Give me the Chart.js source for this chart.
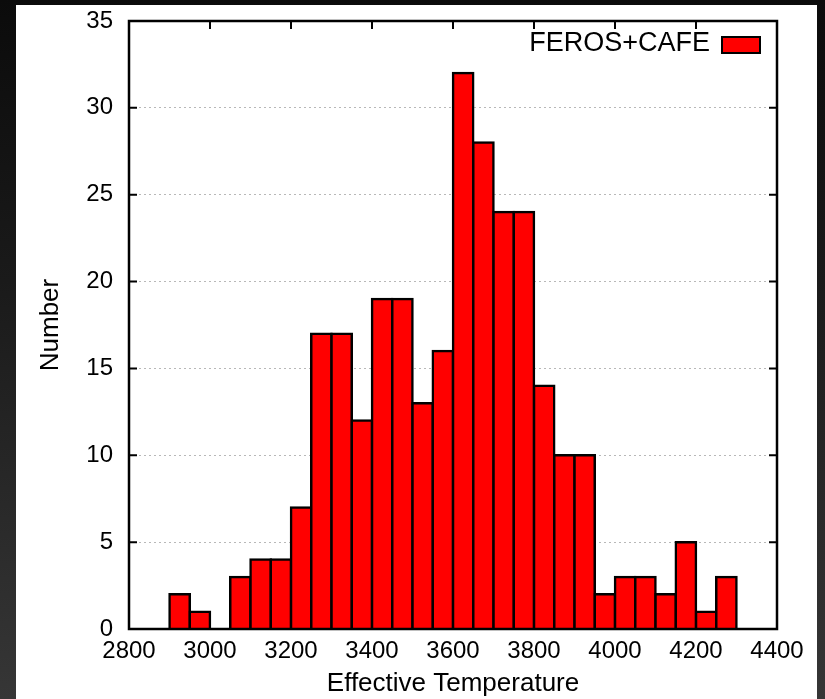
<!DOCTYPE html>
<html>
<head>
<meta charset="utf-8">
<script src="https://cdn.jsdelivr.net/npm/chart.js@4/dist/chart.umd.min.js"></script>
<style>
  html, body { margin: 0; padding: 0; }
  body {
    width: 825px; height: 699px; overflow: hidden;
    background: linear-gradient(to bottom, #0b0b0b 0%, #1a1a1a 40%, #363636 100%);
    position: relative;
  }
  #panel {
    position: absolute; left: 16px; top: 5px;
    width: 801px; height: 694px; background: #ffffff;
  }
</style>
</head>
<body>
<div id="panel"><canvas id="histo"></canvas></div>
<script>
// histogram bins (50 K wide), centre of each bin
const binCenters = [2925, 2975, 3025, 3075, 3125, 3175, 3225, 3275, 3325, 3375,
                    3425, 3475, 3525, 3575, 3625, 3675, 3725, 3775, 3825, 3875,
                    3925, 3975, 4025, 4075, 4125, 4175, 4225, 4275];
// number of stars in each bin
const counts = [2, 1, 0, 3, 4, 4, 7, 17, 17, 12,
                19, 19, 13, 16, 32, 28, 24, 24, 14, 10,
                10, 2, 3, 3, 2, 5, 1, 3];

const seriesLabel = 'FEROS+CAFE';
const xTitle = 'Effective Temperature';
const yTitle = 'Number';

const FONT = 'Liberation Sans, Arial, Helvetica, sans-serif';

// frame with inward ticks on all four sides (gnuplot look)
const framePlugin = {
    id: 'frame',
    afterDatasetsDraw(chart) {
        const { ctx, chartArea: a, scales } = chart;
        const len = 8;
        ctx.save();
        ctx.strokeStyle = '#000';
        ctx.lineWidth = 2;
        ctx.beginPath();
        scales.x.ticks.forEach((t) => {
            const px = scales.x.getPixelForValue(t.value);
            ctx.moveTo(px, a.bottom); ctx.lineTo(px, a.bottom - len);
            ctx.moveTo(px, a.top); ctx.lineTo(px, a.top + len);
        });
        scales.y.ticks.forEach((t) => {
            const py = scales.y.getPixelForValue(t.value);
            ctx.moveTo(a.left, py); ctx.lineTo(a.left + len, py);
            ctx.moveTo(a.right, py); ctx.lineTo(a.right - len, py);
        });
        ctx.stroke();
        ctx.lineWidth = 2.5;
        ctx.strokeRect(a.left, a.top, a.right - a.left, a.bottom - a.top);
        ctx.restore();
    }
};

// key in the top right corner, box on the right of the text
const keyPlugin = {
    id: 'key',
    afterDraw(chart) {
        const { ctx, chartArea: a } = chart;
        const ds = chart.data.datasets[0];
        const boxW = 38, boxH = 16;
        const boxRight = a.right - 17;
        const boxTop = a.top + 16;
        ctx.save();
        ctx.fillStyle = ds.backgroundColor;
        ctx.strokeStyle = '#000';
        ctx.lineWidth = 2;
        ctx.fillRect(boxRight - boxW, boxTop, boxW, boxH);
        ctx.strokeRect(boxRight - boxW, boxTop, boxW, boxH);
        ctx.fillStyle = '#000';
        ctx.font = '27px ' + FONT;
        ctx.textAlign = 'right';
        ctx.textBaseline = 'middle';
        ctx.fillText(ds.label, boxRight - boxW - 12, boxTop + boxH / 2 - 1);
        ctx.restore();
    }
};

new Chart(document.getElementById('histo'), {
    type: 'bar',
    data: {
        datasets: [{
            label: seriesLabel,
            data: binCenters.map((x, i) => ({ x: x, y: counts[i] })),
            backgroundColor: '#ff0000',
            borderColor: '#000000',
            borderWidth: 2.5,
            inflateAmount: 1.25,
            barPercentage: 1.0,
            categoryPercentage: 1.0
        }]
    },
    options: {
        responsive: true,
        maintainAspectRatio: false,
        animation: false,
        layout: { padding: { left: 0, right: 40, top: 16, bottom: 0 } },
        plugins: {
            legend: { display: false },
            tooltip: { enabled: false }
        },
        scales: {
            x: {
                type: 'linear',
                min: 2800,
                max: 4400,
                offset: false,
                ticks: {
                    stepSize: 200,
                    color: '#000',
                    padding: 8,
                    maxRotation: 0,
                    font: { family: FONT, size: 24 },
                    callback: (v) => String(v)
                },
                grid: { display: false, drawTicks: false },
                border: { display: false },
                title: {
                    display: true,
                    text: xTitle,
                    color: '#000',
                    padding: { top: 0, bottom: 0 },
                    font: { family: FONT, size: 26 }
                },
                afterFit(scale) {
                    scale.height = 70;
                    scale.paddingLeft = 0;
                    scale.paddingRight = 0;
                }
            },
            y: {
                min: 0,
                max: 35,
                ticks: {
                    stepSize: 5,
                    color: '#000',
                    padding: 16,
                    font: { family: FONT, size: 24 }
                },
                grid: {
                    drawTicks: false,
                    color: '#b8b8b8',
                    lineWidth: 1
                },
                border: { display: false, dash: [2, 3] },
                title: {
                    display: true,
                    text: yTitle,
                    color: '#000',
                    padding: { top: 19, bottom: 0 },
                    font: { family: FONT, size: 26 }
                },
                afterFit(scale) {
                    scale.width = 113;
                    scale.paddingTop = 0;
                    scale.paddingBottom = 0;
                }
            }
        }
    },
    plugins: [framePlugin, keyPlugin]
});
</script>
</body>
</html>
